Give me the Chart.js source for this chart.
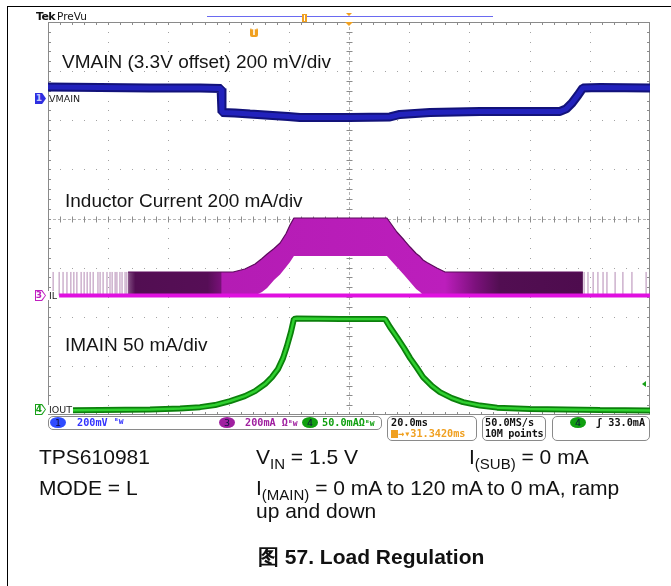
<!DOCTYPE html>
<html><head><meta charset="utf-8">
<script src="https://cdn.jsdelivr.net/npm/chart.js@4.4.1/dist/chart.umd.min.js"></script>
<style>
body{margin:0;background:#fff;}
#wrap{position:relative;width:671px;height:586px;overflow:hidden;background:#fff;font-family:"Liberation Sans",Arial,sans-serif;color:#111;}
#c{position:absolute;left:0;top:0;}
.t{position:absolute;white-space:nowrap;line-height:1;}
.ann{font-size:19px;color:#151515;}
.cap{font-size:21px;color:#111;}
.sub{font-size:15px;position:relative;top:5px;}
.st{font-family:"DejaVu Sans Mono",monospace;font-size:10.2px;font-weight:bold;}
.box{position:absolute;border:1px solid #8a8a8a;border-radius:5px;box-sizing:border-box;}
.dot{position:absolute;width:16px;height:11px;border-radius:50%;font-family:"DejaVu Sans",sans-serif;font-size:9.5px;line-height:11px;text-align:center;color:#101040;}
.mk{position:absolute;width:11px;height:11px;clip-path:polygon(0 0,65% 0,100% 50%,65% 100%,0 100%);}
.mki{position:absolute;left:1px;top:1px;width:9px;height:9px;background:#fff;clip-path:polygon(0 0,60% 0,100% 50%,60% 100%,0 100%);}
.mkt{position:absolute;left:0;top:0;width:8px;font-family:"DejaVu Sans",sans-serif;font-size:9px;line-height:11px;text-align:center;font-weight:bold;}
.chl{font-family:"DejaVu Sans",sans-serif;font-size:9.5px;color:#222;background:#fff;padding-right:1px;}
</style></head>
<body><div id="wrap">
<canvas id="c" width="671" height="586"></canvas>

<!-- outer figure frame -->
<div style="position:absolute;left:7px;top:6px;width:700px;height:600px;border-left:1.5px solid #000;border-top:1.5px solid #000;"></div>

<!-- top scope header -->
<div class="t" style="left:36px;top:11px;font-family:'DejaVu Sans',sans-serif;font-size:11px;font-weight:bold;letter-spacing:-0.6px;">Tek</div>
<div class="t" style="left:57px;top:11px;font-family:'DejaVu Sans',sans-serif;font-size:10.5px;">PreVu</div>
<div style="position:absolute;left:207px;top:16px;width:286px;height:1px;background:#6a6af0;"></div>
<div style="position:absolute;left:302px;top:14px;width:5px;height:8px;background:#f0a020;"></div>
<div style="position:absolute;left:304px;top:15px;width:1px;height:6px;background:#fff;"></div>
<div style="position:absolute;left:346px;top:13px;width:0;height:0;border-left:3px solid transparent;border-right:3px solid transparent;border-top:3px solid #f0a020;"></div>
<div style="position:absolute;left:345px;top:22px;width:0;height:0;border-left:4px solid transparent;border-right:4px solid transparent;border-top:4px solid #f0a020;"></div>
<div class="t" id="trigT" style="left:250px;top:28px;width:8px;height:9px;background:#f0a020;border-radius:2px;color:#fff;font-family:'DejaVu Sans',sans-serif;font-size:8px;font-weight:bold;text-align:center;line-height:9px;">T</div>

<!-- in-plot annotations -->
<div class="t ann" style="left:62px;top:52px;">VMAIN (3.3V offset) 200 mV/div</div>
<div class="t ann" style="left:65px;top:191px;">Inductor Current 200 mA/div</div>
<div class="t ann" style="left:65px;top:335px;">IMAIN 50 mA/div</div>

<!-- channel markers -->
<div class="mk" style="left:35px;top:93px;background:#2f2fe0;"><div class="mkt" style="color:#c8c8ff;">1</div></div>
<div class="t chl" style="left:49px;top:93.5px;background:transparent;">VMAIN</div>
<div class="mk" style="left:35px;top:290px;background:#c020c0;"><div class="mki"></div><div class="mkt" style="color:#c020c0;">3</div></div>
<div class="t chl" style="left:48px;top:290.5px;padding-left:1px;">IL</div>
<div class="mk" style="left:35px;top:404px;background:#19a019;"><div class="mki"></div><div class="mkt" style="color:#19a019;">4</div></div>
<div class="t chl" style="left:48px;top:404.5px;padding-left:1px;">IOUT</div>
<div style="position:absolute;left:642px;top:381px;width:0;height:0;border-top:3px solid transparent;border-bottom:3px solid transparent;border-right:4px solid #19a019;"></div>

<!-- status bar -->
<div class="box" style="left:48px;top:416px;width:334px;height:14px;"></div>
<div class="dot" style="left:50px;top:417px;background:#2f4cff;">1</div>
<div class="t st" style="left:77px;top:418px;color:#3333ff;">200mV</div>
<div class="t st" style="left:114px;top:418px;color:#3333ff;font-size:8px;">ᴮw</div>
<div class="dot" style="left:219px;top:417px;background:#a020a0;">3</div>
<div class="t st" style="left:245px;top:418px;color:#a020a0;">200mA Ω<span style="font-size:8px">ᴮw</span></div>
<div class="dot" style="left:302px;top:417px;background:#10a010;">4</div>
<div class="t st" style="left:322px;top:418px;color:#10a010;">50.0mAΩ<span style="font-size:8px">ᴮw</span></div>

<div class="box" style="left:387px;top:416px;width:90px;height:25px;"></div>
<div class="t st" style="left:391px;top:418px;color:#111;">20.0ms</div>
<div class="t st" style="left:391px;top:429px;color:#f0a020;"><span style="display:inline-block;width:7px;height:8px;background:#f0a020;vertical-align:-1px;"></span>→▾31.3420ms</div>

<div class="box" style="left:482px;top:416px;width:64px;height:25px;"></div>
<div class="t st" style="left:485px;top:418px;color:#111;">50.0MS/s</div>
<div class="t st" style="left:485px;top:429px;color:#111;letter-spacing:-0.3px;">10M points</div>

<div class="box" style="left:552px;top:416px;width:98px;height:25px;"></div>
<div class="dot" style="left:570px;top:417px;background:#10a010;">4</div>
<div class="t st" style="left:596px;top:418px;color:#111;">ʃ 33.0mA</div>

<!-- caption -->
<div class="t cap" style="left:39px;top:446px;">TPS610981</div>
<div class="t cap" style="left:256px;top:446px;">V<span class="sub">IN</span> = 1.5 V</div>
<div class="t cap" style="left:469px;top:446px;">I<span class="sub">(SUB)</span> = 0 mA</div>
<div class="t cap" style="left:39px;top:477px;">MODE = L</div>
<div class="t cap" style="left:256px;top:477px;">I<span class="sub">(MAIN)</span> = 0 mA to 120 mA to 0 mA, ramp</div>
<div class="t cap" style="left:256px;top:500px;">up and down</div>
<div class="t cap" style="left:258px;top:546px;font-weight:bold;">图 57. Load Regulation</div>
</div>

<script>
// ---- Data (time in ms relative to trigger) ----
// Channel 1: VMAIN deviation from 3.3 V offset, mV (200 mV/div)
const vmainTime = [-100, -82.7, -66.1, -49.5, -42.5, -42.2, -37.9, -32.9, -27.9, -20.3, -16.3, 0, 13.6, 16.9, 26.9, 43.5, 70.1, 72.1, 74.1, 76.1, 77.7, 83.4, 100];
const vmainMv   = [44.8, 42.8, 40.7, 40.7, 38.7, -59.1, -61.1, -65.2, -69.2, -75.4, -79.4, -79.4, -77.4, -67.2, -59.1, -55.0, -55.0, -44.8, -20.4, 12.2, 40.7, 42.8, 40.7];

// Channel 3: inductor current envelope, mA (200 mA/div)
const ilTime   = [-73.4, -56.1, -42.2, -38.5, -34.6, -31.2, -28.9, -27.2, -24.9, -22.9, -20.9, -19.6, -18.3, 12.6, 15.9, 18.3, 20.3, 22.3, 23.6, 24.6, 25.9, 29.2, 31.9, 50.2, 77.7];
const ilPeakMa = [95.7, 95.7, 95.7, 95.7, 107.9, 128.3, 150.7, 169.0, 191.4, 213.8, 252.5, 287.0, 315.7, 315.7, 258.6, 226.0, 197.5, 171.0, 158.8, 144.6, 134.4, 112.0, 95.7, 95.7, 95.7];
const ilValleyMa = [0, 0, 0, 0, 0, 0, 14.3, 30.5, 63.1, 85.5, 116.0, 136.4, 160.9, 160.9, 116.0, 83.5, 55.0, 26.5, 14.3, 2.0, 0, 0, 0, 0, 0];
const ilBaseTime = [-96.3, 100];
const ilBaseMa   = [0, 0];
// isolated switching pulses in light-load (PFM) zones
const ilPulseTime = [-98.3, -96.3, -95.0, -93.7, -92.4, -91.4, -90.4, -89.0, -88.0, -87.0, -86.0, -85.0, -83.4, -82.7, -81.7, -80.4, -79.4, -78.7, -77.7, -77.1, -76.1, -75.4, -74.4, -73.8,
                     78.1, 79.4, 81.1, 82.7, 84.4, 85.7, 88.4, 91.0, 94.0, 98.7];
const ilPulseMa   = [96, 96, 96, 96, 96, 96, 96, 96, 96, 96, 96, 96, 96, 96, 96, 96, 96, 96, 96, 96, 96, 96, 96, 96,
                     96, 96, 96, 96, 96, 96, 96, 96, 96, 96];

// Channel 4: IOUT (load current), mA (50 mA/div)
const ioutTime = [-100, -82.7, -66.1, -56.1, -49.5, -44.5, -39.5, -34.6, -31.2, -27.9, -25.6, -23.6, -21.9, -20.6, -19.3, -18.3, -17.3, -3.0, 12.0, 13.6, 15.9, 18.3, 20.3, 22.6, 24.6, 27.6, 30.2, 34.2, 37.9, 43.5, 49.2, 60.1, 83.4, 100];
const ioutMa   = [-1.0, -0.5, 0, 1.0, 2.5, 4.6, 8.7, 13.7, 18.8, 26.0, 33.1, 41.2, 52.4, 64.7, 78.9, 92.2, 92.7, 92.2, 92.2, 84.0, 73.8, 62.6, 52.4, 42.3, 33.1, 23.9, 17.8, 11.7, 7.6, 4.1, 2.0, 0.5, -0.5, -1.0];

// Scope channel settings (units/div and marker position in divisions)
const ch1 = {scale: 200, pos: 2.454};
const ch3 = {scale: 200, pos: -1.568};
const ch4 = {scale: 50,  pos: -3.89};

const toDiv = (ts, vs, ch) => ts.map((t, i) => ({x: t, y: vs[i] == null ? null : ch.pos + vs[i] / ch.scale}));

const pulseData = [];
ilPulseTime.forEach((t, i) => {
  pulseData.push({x: t, y: ch3.pos}, {x: t, y: ch3.pos + ilPulseMa[i] / ch3.scale}, {x: t, y: null});
});

const ilFill = (c) => {
  const ch = c.chart, a = ch.chartArea;
  if (!a) return 'rgba(0,0,0,0)';
  const X = ch.scales.x, L = a.left, W = a.right - a.left;
  const g = ch.ctx.createLinearGradient(L, 0, a.right, 0);
  const stops = [[-74, '#8e5e8e'], [-71, '#520e52'], [-47, '#560e56'], [-42.6, '#781078'], [-42.2, '#b41cb4'], [31.9, '#bc1ebc'], [42, '#7c117c'], [50, '#520e52'], [77.7, '#4e0c4e']];
  stops.forEach(([t, col]) => g.addColorStop(Math.min(1, Math.max(0, (X.getPixelForValue(t) - L) / W)), col));
  return g;
};

const gridPlugin = {
  id: 'scopeGrid',
  beforeDatasetsDraw(chart) {
    const {ctx, chartArea: a, scales: {x, y}} = chart;
    ctx.save();
    ctx.fillStyle = '#a3a3a3';
    for (let i = 1; i < 10; i++) {
      if (i === 5) continue;
      const px = Math.round(x.getPixelForValue(-100 + 20 * i));
      for (let j = 1; j < 40; j++) {
        const py = Math.round(y.getPixelForValue(-4 + j * 0.2));
        ctx.fillRect(px, py, 1, 1);
      }
    }
    for (let j = 1; j < 8; j++) {
      if (j === 4) continue;
      const py = Math.round(y.getPixelForValue(-4 + j));
      for (let i = 1; i < 50; i++) {
        const px = Math.round(x.getPixelForValue(-100 + i * 4));
        ctx.fillRect(px, py, 1, 1);
      }
    }
    ctx.strokeStyle = '#b4b4b4';
    ctx.lineWidth = 1;
    ctx.setLineDash([3, 2]);
    const cx = Math.round(x.getPixelForValue(0)) + 0.5;
    const cy = Math.round(y.getPixelForValue(0)) + 0.5;
    ctx.beginPath();
    ctx.moveTo(cx, a.top); ctx.lineTo(cx, a.bottom);
    ctx.moveTo(a.left, cy); ctx.lineTo(a.right, cy);
    ctx.stroke();
    ctx.setLineDash([]);
    ctx.strokeStyle = '#8c8c8c';
    ctx.beginPath();
    for (let j = 1; j < 40; j++) {
      const py = Math.round(y.getPixelForValue(-4 + j * 0.2)) + 0.5;
      ctx.moveTo(cx - 3, py); ctx.lineTo(cx + 3, py);
      ctx.moveTo(a.left, py); ctx.lineTo(a.left + 3, py);
      ctx.moveTo(a.right - 3, py); ctx.lineTo(a.right, py);
    }
    for (let i = 1; i < 50; i++) {
      const px = Math.round(x.getPixelForValue(-100 + i * 4)) + 0.5;
      ctx.moveTo(px, cy - 3); ctx.lineTo(px, cy + 3);
      ctx.moveTo(px, a.top); ctx.lineTo(px, a.top + 3);
      ctx.moveTo(px, a.bottom - 3); ctx.lineTo(px, a.bottom);
    }
    ctx.stroke();
    ctx.strokeStyle = '#8a8a8a';
    ctx.strokeRect(a.left + 0.5, a.top + 0.5, a.right - a.left - 1, a.bottom - a.top - 1);
    ctx.restore();
  }
};

const common = {pointRadius: 0, pointHoverRadius: 0, tension: 0, spanGaps: false, borderJoinStyle: 'bevel', fill: false};

new Chart(document.getElementById('c'), {
  type: 'line',
  data: {
    datasets: [
      Object.assign({}, common, {label: 'IL pulses', data: pulseData, borderColor: '#b48ab4', borderWidth: 1, order: 10}),
      Object.assign({}, common, {label: 'IL valley', data: toDiv(ilTime, ilValleyMa, ch3), borderColor: 'rgba(0,0,0,0)', borderWidth: 0, order: 9}),
      Object.assign({}, common, {label: 'IL peak', data: toDiv(ilTime, ilPeakMa, ch3), borderColor: '#5c0a5c', borderWidth: 1.2, fill: 1, backgroundColor: ilFill, order: 8}),
      Object.assign({}, common, {label: 'IL base', data: toDiv(ilBaseTime, ilBaseMa, ch3), borderColor: '#e010e0', borderWidth: 4, order: 7}),
      Object.assign({}, common, {label: 'VMAIN edge', data: toDiv(vmainTime, vmainMv, ch1), borderColor: '#12127a', borderWidth: 9, order: 6}),
      Object.assign({}, common, {label: 'VMAIN', data: toDiv(vmainTime, vmainMv, ch1), borderColor: '#2222bc', borderWidth: 5, order: 5}),
      Object.assign({}, common, {label: 'IOUT edge', data: toDiv(ioutTime, ioutMa, ch4), borderColor: '#0b800b', borderWidth: 6, order: 4}),
      Object.assign({}, common, {label: 'IOUT', data: toDiv(ioutTime, ioutMa, ch4), borderColor: '#30d030', borderWidth: 2.5, order: 3})
    ]
  },
  options: {
    responsive: false,
    animation: false,
    devicePixelRatio: 1,
    layout: {padding: {left: 48, right: 21, top: 22, bottom: 171}},
    scales: {
      x: {type: 'linear', min: -100, max: 100, display: false},
      y: {type: 'linear', min: -4, max: 4, display: false}
    },
    plugins: {legend: {display: false}, tooltip: {enabled: false}, filler: {propagate: false}},
    events: []
  },
  plugins: [gridPlugin]
});
</script>
</body></html>
